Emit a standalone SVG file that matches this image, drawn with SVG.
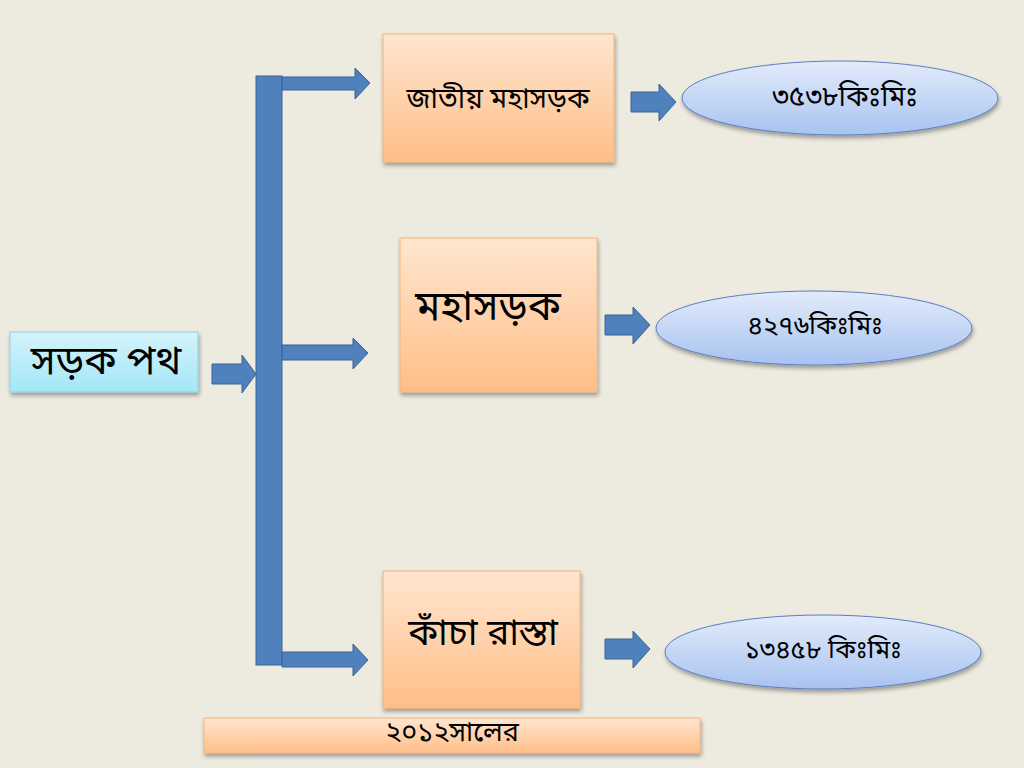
<svg xmlns="http://www.w3.org/2000/svg" width="1024" height="768" viewBox="0 0 1024 768">
<defs>
<linearGradient id="gOrange" x1="0" y1="0" x2="0" y2="1">
<stop offset="0" stop-color="#FFE6CF"/>
<stop offset="1" stop-color="#FFBE88"/>
</linearGradient>
<linearGradient id="gCyan" x1="0" y1="0" x2="0" y2="1">
<stop offset="0" stop-color="#D3F4FB"/>
<stop offset="1" stop-color="#A4E6F7"/>
</linearGradient>
<linearGradient id="gBlue" x1="0" y1="0" x2="0" y2="1">
<stop offset="0" stop-color="#E2EBFB"/>
<stop offset="1" stop-color="#A8C3F0"/>
</linearGradient>
<filter id="sh" x="-10%" y="-10%" width="130%" height="140%">
<feGaussianBlur in="SourceAlpha" stdDeviation="2"/>
<feOffset dx="1" dy="3" result="b"/>
<feComponentTransfer><feFuncA type="linear" slope="0.35"/></feComponentTransfer>
<feMerge><feMergeNode/><feMergeNode in="SourceGraphic"/></feMerge>
</filter>
</defs>
<style>
.box{fill:url(#gOrange);stroke:#F4B47A;stroke-width:1}
.src{fill:url(#gCyan);stroke:#8FD3E6;stroke-width:1}
.ell{fill:url(#gBlue);stroke:#5B7FC2;stroke-width:1}
.arr{fill:#4F81BD;stroke:#3B6494;stroke-width:1}
.t{font-family:"Noto Sans Bengali","Noto Serif Bengali","Lohit Bengali","Noto Sans",sans-serif;fill:#000;text-anchor:middle}
</style>
<rect x="0" y="0" width="1024" height="768" fill="#EDEAE0"/>
<g id="connectors">
<path class="arr" d="M212,364 H242 V355 L256,374 L242,393 V384 H212 Z"/>
<rect class="arr" x="256" y="76" width="26" height="589"/>
<path class="arr" d="M282,77 H355 V68 L370,83 L355,99 V90 H282 Z"/>
<path class="arr" d="M282,345 H353 V338 L368,353 L353,369 V360 H282 Z"/>
<path class="arr" d="M282,652 H353 V644 L368,660 L353,676 V667 H282 Z"/>
<path class="arr" d="M631,92 H659 V84 L676,102 L659,121 V112 H631 Z"/>
<path class="arr" d="M605,315 H633 V307 L650,325 L633,344 V335 H605 Z"/>
<path class="arr" d="M605,639 H633 V631 L650,649 L633,668 V659 H605 Z"/>
</g>
<g id="source">
<rect class="src" x="10" y="332" width="188" height="60" filter="url(#sh)"/>
<text class="t" x="106" y="374" font-size="40">সড়ক পথ</text>
</g>
<g id="national">
<rect class="box" x="383" y="34" width="231" height="128" filter="url(#sh)"/>
<text class="t" x="498" y="108" font-size="28">জাতীয় মহাসড়ক</text>
</g>
<g id="highway">
<rect class="box" x="400" y="238" width="197" height="154" filter="url(#sh)"/>
<text class="t" x="488" y="320" font-size="41">মহাসড়ক</text>
</g>
<g id="dirt">
<rect class="box" x="383" y="571" width="197" height="137" filter="url(#sh)"/>
<text class="t" x="483" y="645" font-size="37">কাঁচা রাস্তা</text>
</g>
<g id="year">
<rect class="box" x="204" y="718" width="496" height="35" filter="url(#sh)"/>
<text class="t" x="452" y="741" font-size="27">২০১২সালের</text>
</g>
<g id="km1">
<ellipse class="ell" cx="840" cy="98" rx="158" ry="37" filter="url(#sh)"/>
<text class="t" x="845" y="106" font-size="28">৩৫৩৮কিঃমিঃ</text>
</g>
<g id="km2">
<ellipse class="ell" cx="814" cy="328" rx="158" ry="37" filter="url(#sh)"/>
<text class="t" x="815" y="334" font-size="26">৪২৭৬কিঃমিঃ</text>
</g>
<g id="km3">
<ellipse class="ell" cx="823" cy="652" rx="158" ry="37" filter="url(#sh)"/>
<text class="t" x="823" y="658" font-size="26">১৩৪৫৮ কিঃমিঃ</text>
</g>
</svg>
